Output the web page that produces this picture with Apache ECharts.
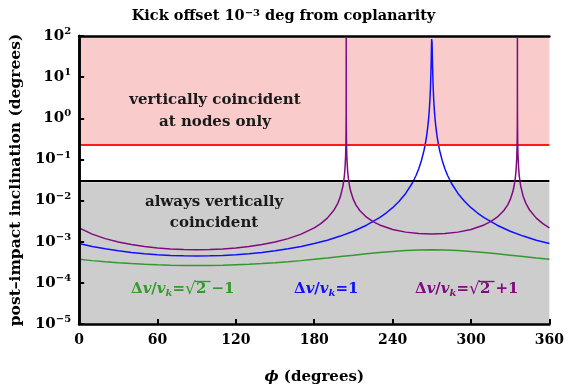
<!DOCTYPE html>
<html><head><meta charset="utf-8">
<script src="https://cdn.jsdelivr.net/npm/echarts@6/dist/echarts.min.js"></script>
<style>html,body{margin:0;padding:0;background:#fff}#c{width:567px;height:392px}</style>
</head><body><div id="c"></div>
<script>
// ---- data ----
var xTicks = [0, 60, 120, 180, 240, 300, 360];
var nodesLimit = 0.235;   // red line: lower edge of the "at nodes only" region
var alwaysLimit = 0.028;  // black line: upper edge of the "always" region

var greenPhi = [0,10,20,30,40,50,60,70,80,90,100,110,120,130,140,150,160,170,180,190,200,210,220,230,240,250,260,270,280,290,300,310,320,330,340,350,360];
var greenVal = [3.73e-4,3.47e-4,3.27e-4,3.09e-4,2.94e-4,2.83e-4,2.75e-4,2.68e-4,2.65e-4,2.64e-4,2.65e-4,2.68e-4,2.75e-4,2.83e-4,2.94e-4,3.09e-4,3.27e-4,3.47e-4,3.73e-4,4.01e-4,4.35e-4,4.70e-4,5.09e-4,5.46e-4,5.81e-4,6.10e-4,6.30e-4,6.36e-4,6.30e-4,6.10e-4,5.81e-4,5.46e-4,5.09e-4,4.70e-4,4.35e-4,4.01e-4,3.73e-4];

var bluePhi = [0,10,20,30,40,50,60,70,80,90,100,110,120,130,140,150,160,170,180,190,200,210,220,230,235,240,245,250,255,258,260,262,264,265,266,267,267.5,268,268.5,269,269.5,269.8,269.9,270,270.1,270.2,270.5,271,271.5,272,272.5,273,274,275,276,278,280,282,285,290,295,300,305,310,320,330,340,350,360];
var blueVal = [9.0e-4,7.67e-4,6.71e-4,6.00e-4,5.48e-4,5.09e-4,4.82e-4,4.64e-4,4.54e-4,4.50e-4,4.54e-4,4.64e-4,4.82e-4,5.09e-4,5.48e-4,6.00e-4,6.71e-4,7.67e-4,9.0e-4,1.09e-3,1.37e-3,1.80e-3,2.52e-3,3.84e-3,4.98e-3,6.71e-3,9.61e-3,1.49e-2,2.64e-2,4.12e-2,5.92e-2,0.0927,0.165,0.237,0.370,0.657,0.945,1.48,2.63,5.90,22.4,68.8,84.5,90.0,84.5,68.8,22.4,5.90,2.63,1.48,0.945,0.657,0.370,0.237,0.165,0.0927,5.92e-2,4.12e-2,2.64e-2,1.49e-2,9.61e-3,6.71e-3,4.98e-3,3.84e-3,2.52e-3,1.80e-3,1.37e-3,1.09e-3,9.0e-4];

var purplePhi = [0,10,20,30,40,50,60,70,80,90,100,110,120,130,140,150,160,170,180,185,190,195,198,200,202,203,203.5,204,204.2,204.3,204.4,204.45,204.47,204.5,204.55,204.7,205,205.5,206,207,208,210,212,215,220,225,230,240,250,260,270,280,290,300,310,315,320,325,328,330,332,333,334,334.5,335,335.3,335.45,335.5,335.53,335.55,335.6,335.7,335.8,336,336.5,337,338,340,342,345,350,355,360];
var purpleVal = [2.17e-3,1.53e-3,1.19e-3,9.81e-4,8.51e-4,7.62e-4,7.03e-4,6.65e-4,6.44e-4,6.36e-4,6.44e-4,6.65e-4,7.03e-4,7.62e-4,8.51e-4,9.81e-4,1.19e-3,1.53e-3,2.17e-3,2.75e-3,3.74e-3,5.80e-3,8.55e-3,1.25e-2,2.28e-2,3.83e-2,5.82e-2,0.121,0.210,0.333,0.809,2.83,90,1.89,0.708,0.247,0.107,5.50e-2,3.73e-2,2.26e-2,1.63e-2,1.05e-2,7.78e-3,5.65e-3,3.94e-3,3.07e-3,2.56e-3,1.99e-3,1.71e-3,1.58e-3,1.54e-3,1.58e-3,1.71e-3,1.99e-3,2.56e-3,3.07e-3,3.94e-3,5.65e-3,7.78e-3,1.05e-2,1.63e-2,2.26e-2,3.73e-2,5.50e-2,0.107,0.247,0.708,1.89,90,2.83,0.809,0.333,0.210,0.121,5.82e-2,3.83e-2,2.28e-2,1.25e-2,8.55e-3,5.80e-3,3.74e-3,2.75e-3,2.17e-3];

// ---- chart ----
function zip(a, b) { return a.map(function (v, i) { return [v, b[i]]; }); }
var SERIF = '"DejaVu Serif", serif';
var GREEN = '#33992e', BLUE = '#1010ff', PURPLE = '#800a80';

var chart = echarts.init(document.getElementById('c'), null, {renderer: 'canvas'});
var GRID = {left: 79, right: 16, top: 36, bottom: 68};

// equation label "Δv/v_k = ..." laid out piece by piece
var mctx = document.createElement('canvas').getContext('2d');
function measure(t, font) { mctx.font = font; return mctx.measureText(t).width; }
function eqLabel(x0, y, color, withSqrt, tail) {
  var els = [], x = x0;
  var B = 'bold 15px ' + SERIF, I = 'italic bold 15px ' + SERIF, S = 'italic bold 10px ' + SERIF;
  var parts = [['Δ', B, 0], ['v', I, 0], ['/', B, 0], ['v', I, 0], ['k', S, 4], ['=', B, 0]];
  if (withSqrt) parts.push(['√', '17px ' + SERIF, 1]);
  var xs = {};
  parts.forEach(function (p, idx) {
    els.push({type: 'text', z: 20, x: x, y: y + p[2], style: {text: p[0], font: p[1], fill: color, verticalAlign: 'middle'}});
    x += measure(p[0], p[1]);
  });
  if (withSqrt) {
    var x2 = x;
    els.push({type: 'text', z: 20, x: x, y: y, style: {text: '2', font: B, fill: color, verticalAlign: 'middle'}});
    x += measure('2 ', B);
    els.push({type: 'line', z: 20, shape: {x1: x2 - 1, y1: y - 7.5, x2: x - 1, y2: y - 7.5}, style: {stroke: color, lineWidth: 1.3}});
  }
  els.push({type: 'text', z: 20, x: x, y: y, style: {text: tail, font: B, fill: color, verticalAlign: 'middle'}});
  return els;
}

var graphics = [
  {type: 'text', z: 20, x: 215, y: 111,
    style: {text: 'vertically coincident\nat nodes only', font: 'bold 15px ' + SERIF, fill: '#1a1a1a',
      align: 'center', verticalAlign: 'middle', lineHeight: 22}},
  {type: 'text', z: 20, x: 214, y: 213,
    style: {text: 'always vertically\ncoincident', font: 'bold 15px ' + SERIF, fill: '#1a1a1a',
      align: 'center', verticalAlign: 'middle', lineHeight: 21}}
].concat(eqLabel(131, 289, GREEN, true, '−1'))
 .concat(eqLabel(294, 289, BLUE, false, '1'))
 .concat(eqLabel(415, 289, PURPLE, true, '+1'));

var option = {
  animation: false,
  title: {
    text: '{t|Kick offset 10}{s|−3}{t| deg from coplanarity}',
    left: 'center', top: 3,
    textStyle: {rich: {
      t: {fontFamily: SERIF, fontWeight: 'bold', fontSize: 14.5, color: '#000'},
      s: {fontFamily: SERIF, fontWeight: 'bold', fontSize: 10, color: '#000', padding: [0, 0, 7, 0]}
    }}
  },
  grid: GRID,
  xAxis: [{
    type: 'value', min: 0, max: 360, interval: 60, z: 10,
    name: '{p|ϕ} (degrees)', nameLocation: 'middle', nameGap: 46,
    nameTextStyle: {fontFamily: SERIF, fontWeight: 'bold', fontSize: 15, color: '#000',
      rich: {p: {fontFamily: SERIF, fontWeight: 'bold', fontStyle: 'italic', fontSize: 15, color: '#000'}}},
    axisLine: {show: true, lineStyle: {color: '#000', width: 2.5}},
    axisTick: {show: true, inside: true, length: 5, lineStyle: {color: '#000', width: 2}},
    axisLabel: {margin: 9, fontFamily: SERIF, fontWeight: 'bold', fontSize: 14, color: '#000',
      customValues: xTicks},
    splitLine: {show: false}
  }, {
    type: 'value', min: 0, max: 360, position: 'top', z: 10,
    axisLine: {show: true, onZero: false, lineStyle: {color: '#000', width: 2.5}},
    axisTick: {show: false}, axisLabel: {show: false}, splitLine: {show: false}
  }],
  yAxis: [{
    type: 'log', min: 1e-5, max: 1e2, logBase: 10, z: 10,
    name: 'post–impact inclination (degrees)', nameLocation: 'middle', nameGap: 54,
    nameTextStyle: {fontFamily: SERIF, fontWeight: 'bold', fontSize: 15.5, color: '#000'},
    axisLine: {show: true, lineStyle: {color: '#000', width: 2.5}},
    axisTick: {show: true, inside: true, length: 5, lineStyle: {color: '#000', width: 2}},
    axisLabel: {
      margin: 8,
      formatter: function (v) {
        var e = Math.round(Math.log10(v));
        return '{b|10}{s|' + (e < 0 ? '−' + (-e) : e) + '}';
      },
      rich: {
        b: {fontFamily: SERIF, fontWeight: 'bold', fontSize: 15, color: '#000'},
        s: {fontFamily: SERIF, fontWeight: 'bold', fontSize: 10, color: '#000', padding: [0, 0, 9, 0]}
      }
    },
    splitLine: {show: false}
  }, {
    type: 'log', min: 1e-5, max: 1e2, position: 'right', z: 10,
    axisLine: {show: true, lineStyle: {color: '#000', width: 2.5}},
    axisTick: {show: false}, axisLabel: {show: false}, splitLine: {show: false}
  }],
  series: [
    {
      type: 'line', name: 'regions', data: [], silent: true,
      markArea: {silent: true, label: {show: false},
        data: [
          [{yAxis: nodesLimit, itemStyle: {color: '#f9cbcb'}}, {yAxis: 1e2}],
          [{yAxis: 1e-5, itemStyle: {color: '#cdcdcd'}}, {yAxis: alwaysLimit}]
        ]},
      markLine: {silent: true, symbol: 'none', label: {show: false},
        data: [
          {yAxis: nodesLimit, lineStyle: {color: '#ff1a1a', width: 2, type: 'solid'}},
          {yAxis: alwaysLimit, lineStyle: {color: '#000', width: 2, type: 'solid'}}
        ]}
    },
    {type: 'line', name: 'green', data: zip(greenPhi, greenVal), showSymbol: false, clip: true,
      lineStyle: {color: GREEN, width: 1.5}, z: 3},
    {type: 'line', name: 'blue', data: zip(bluePhi, blueVal), showSymbol: false, clip: true,
      lineStyle: {color: BLUE, width: 1.5}, z: 4},
    {type: 'line', name: 'purple', data: zip(purplePhi, purpleVal), showSymbol: false, clip: true,
      lineStyle: {color: PURPLE, width: 1.5}, z: 5}
  ],
  graphic: graphics
};
chart.setOption(option);
</script></body></html>
